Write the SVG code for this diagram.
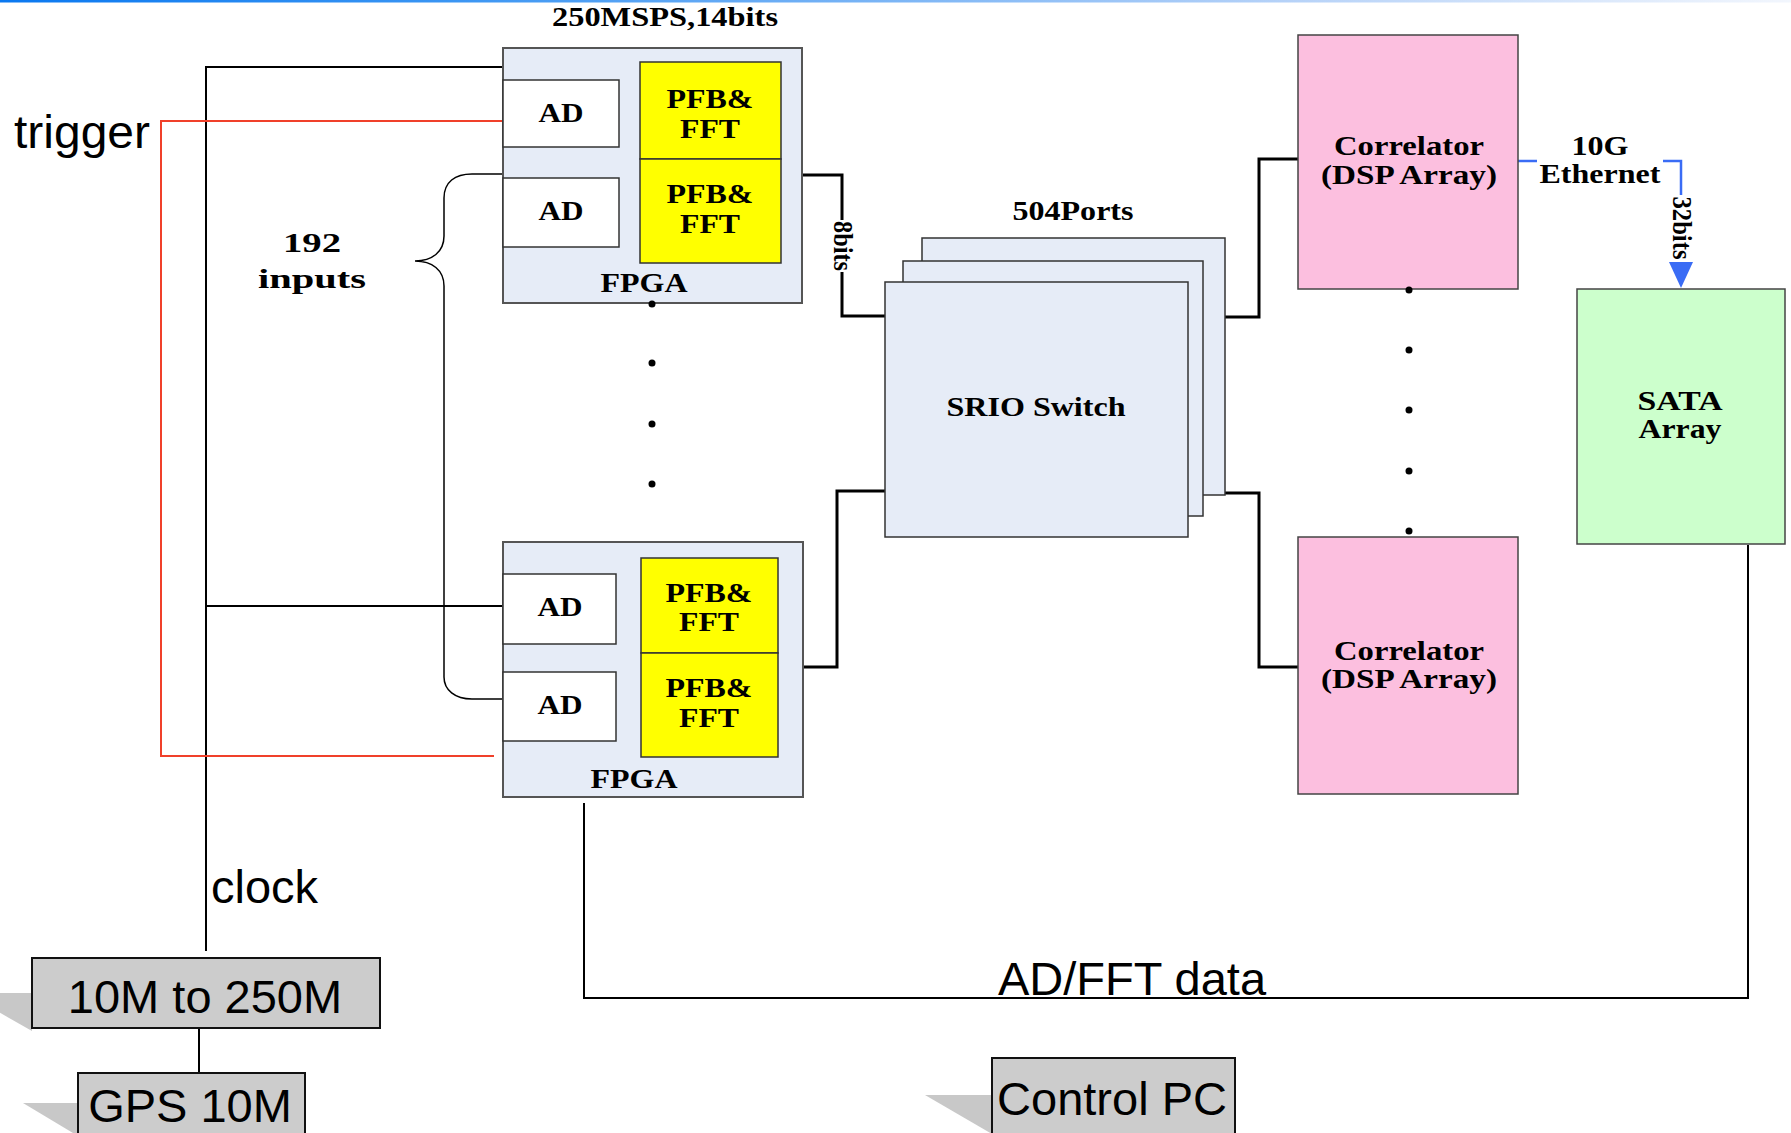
<svg xmlns="http://www.w3.org/2000/svg" width="1791" height="1133" viewBox="0 0 1791 1133">
<defs>
<linearGradient id="topbar" x1="0" y1="0" x2="1" y2="0">
<stop offset="0" stop-color="#0a78f0"/>
<stop offset="0.25" stop-color="#3a95f3"/>
<stop offset="0.72" stop-color="#b6d2f8"/>
<stop offset="1" stop-color="#f2f6fd"/>
</linearGradient>
<style>
.serif{font-family:"Liberation Serif","Times New Roman",serif;font-weight:bold;font-size:27px;fill:#000;text-anchor:middle}
.sans{font-family:"Liberation Sans",Arial,sans-serif;font-size:47px;fill:#000}
.mid{text-anchor:middle}
.fpga{fill:#e6ecf7;stroke:#555;stroke-width:2}
.ad{fill:#fff;stroke:#333;stroke-width:1.5}
.pfb{fill:#ffff00;stroke:#333;stroke-width:1.5}
.sw{fill:#e6ecf7;stroke:#333;stroke-width:1.5}
.corr{fill:#fcbfdf;stroke:#444;stroke-width:1.5}
.sata{fill:#ccffcc;stroke:#444;stroke-width:1.5}
.gray{fill:#cccccc;stroke:#111;stroke-width:2}
.shadow{fill:#c8c8c8;stroke:none}
.wire{fill:none;stroke:#000;stroke-width:2}
.bus{fill:none;stroke:#000;stroke-width:3}
.red{fill:none;stroke:#f0402a;stroke-width:2}
.blue{fill:none;stroke:#3a6cf5;stroke-width:2.5}
.brace{fill:none;stroke:#000;stroke-width:1.5}
.dot{fill:#000}
</style>
</defs>
<rect x="0" y="0" width="1791" height="1133" fill="#fff"/>
<rect x="0" y="0" width="1791" height="2.5" fill="url(#topbar)"/>

<g id="connectors">
<path class="wire" d="M206,951 V67 H509"/>
<path class="wire" d="M206,606 H508"/>
<path class="wire" d="M199,1028 V1073"/>
<path class="red" d="M509,121 H161 V756 H494"/>
<path class="brace" d="M503,174 H472 C455,174 444,182 444,198 V236 C444,252 432,261 415,261 C432,261 444,270 444,286 V677 C444,690 455,699 472,699 H503"/>
<path class="bus" d="M803,175 H842 V220"/>
<path class="bus" d="M842,272 V316 H885"/>
<path class="bus" d="M803,667 H837 V491 H885"/>
<path class="bus" d="M1225,317 H1259 V159 H1298"/>
<path class="bus" d="M1225,493 H1259 V667 H1298"/>
<path class="wire" d="M584,803 V998 H1748 V545"/>
<path class="blue" d="M1518,161 H1537"/>
<path class="blue" d="M1663,161 H1681 V195"/>
<polygon points="1669,262 1693,262 1681,288" fill="#3a6cf5"/>
<text class="serif" transform="translate(842,246) rotate(90)" x="0" y="8" font-size="24" textLength="50" lengthAdjust="spacingAndGlyphs">8bits</text>
<text class="serif" transform="translate(1681,228) rotate(90)" x="0" y="8" textLength="63" lengthAdjust="spacingAndGlyphs">32bits</text>
<text class="serif" x="1600" y="155" textLength="57" lengthAdjust="spacingAndGlyphs">10G</text>
<text class="serif" x="1600" y="183" textLength="121" lengthAdjust="spacingAndGlyphs">Ethernet</text>
</g>

<g id="labels">
<text class="sans" x="14" y="148" textLength="136" lengthAdjust="spacingAndGlyphs">trigger</text>
<text class="sans" x="211" y="903">clock</text>
<text class="sans mid" x="1132" y="995">AD/FFT data</text>
<text class="serif" x="665" y="26" textLength="226" lengthAdjust="spacingAndGlyphs">250MSPS,14bits</text>
<text class="serif" x="312" y="252" textLength="58" lengthAdjust="spacingAndGlyphs">192</text>
<text class="serif" x="312" y="288" textLength="108" lengthAdjust="spacingAndGlyphs">inputs</text>
<text class="serif" x="1073" y="220" textLength="121" lengthAdjust="spacingAndGlyphs">504Ports</text>
</g>

<g id="fpga-top">
<rect class="fpga" x="503" y="48" width="299" height="255"/>
<rect class="ad" x="503" y="80" width="116" height="67"/>
<rect class="ad" x="503" y="178" width="116" height="69"/>
<rect class="pfb" x="640" y="62" width="141" height="97"/>
<rect class="pfb" x="640" y="159" width="141" height="104"/>
<text class="serif" x="561" y="122" textLength="45" lengthAdjust="spacingAndGlyphs">AD</text>
<text class="serif" x="561" y="220" textLength="45" lengthAdjust="spacingAndGlyphs">AD</text>
<text class="serif" x="710" y="108" textLength="87" lengthAdjust="spacingAndGlyphs">PFB&amp;</text>
<text class="serif" x="710" y="138" textLength="60" lengthAdjust="spacingAndGlyphs">FFT</text>
<text class="serif" x="710" y="203" textLength="87" lengthAdjust="spacingAndGlyphs">PFB&amp;</text>
<text class="serif" x="710" y="233" textLength="60" lengthAdjust="spacingAndGlyphs">FFT</text>
<text class="serif" x="644" y="292" textLength="87" lengthAdjust="spacingAndGlyphs">FPGA</text>
</g>

<g id="fpga-dots">
<circle class="dot" cx="652" cy="304" r="3.5"/>
<circle class="dot" cx="652" cy="363" r="3.5"/>
<circle class="dot" cx="652" cy="424" r="3.5"/>
<circle class="dot" cx="652" cy="484" r="3.5"/>
</g>

<g id="fpga-bottom">
<rect class="fpga" x="503" y="542" width="300" height="255"/>
<rect class="ad" x="503" y="574" width="113" height="70"/>
<rect class="ad" x="503" y="672" width="113" height="69"/>
<rect class="pfb" x="641" y="558" width="137" height="95"/>
<rect class="pfb" x="641" y="653" width="137" height="104"/>
<text class="serif" x="560" y="616" textLength="45" lengthAdjust="spacingAndGlyphs">AD</text>
<text class="serif" x="560" y="714" textLength="45" lengthAdjust="spacingAndGlyphs">AD</text>
<text class="serif" x="709" y="602" textLength="87" lengthAdjust="spacingAndGlyphs">PFB&amp;</text>
<text class="serif" x="709" y="631" textLength="60" lengthAdjust="spacingAndGlyphs">FFT</text>
<text class="serif" x="709" y="697" textLength="87" lengthAdjust="spacingAndGlyphs">PFB&amp;</text>
<text class="serif" x="709" y="727" textLength="60" lengthAdjust="spacingAndGlyphs">FFT</text>
<text class="serif" x="634" y="788" textLength="87" lengthAdjust="spacingAndGlyphs">FPGA</text>
</g>

<g id="srio-switch">
<rect class="sw" x="922" y="238" width="303" height="257"/>
<rect class="sw" x="903" y="261" width="300" height="255"/>
<rect class="sw" x="885" y="282" width="303" height="255"/>
<text class="serif" x="1036" y="416" textLength="179" lengthAdjust="spacingAndGlyphs">SRIO Switch</text>
</g>

<g id="correlator-top">
<rect class="corr" x="1298" y="35" width="220" height="254"/>
<text class="serif" x="1409" y="155" textLength="150" lengthAdjust="spacingAndGlyphs">Correlator</text>
<text class="serif" x="1409" y="184" textLength="176" lengthAdjust="spacingAndGlyphs">(DSP Array)</text>
</g>

<g id="correlator-dots">
<circle class="dot" cx="1409" cy="290" r="3.5"/>
<circle class="dot" cx="1409" cy="350" r="3.5"/>
<circle class="dot" cx="1409" cy="410" r="3.5"/>
<circle class="dot" cx="1409" cy="471" r="3.5"/>
<circle class="dot" cx="1409" cy="531" r="3.5"/>
</g>

<g id="correlator-bottom">
<rect class="corr" x="1298" y="537" width="220" height="257"/>
<text class="serif" x="1409" y="660" textLength="150" lengthAdjust="spacingAndGlyphs">Correlator</text>
<text class="serif" x="1409" y="688" textLength="176" lengthAdjust="spacingAndGlyphs">(DSP Array)</text>
</g>

<g id="sata-array">
<rect class="sata" x="1577" y="289" width="208" height="255"/>
<text class="serif" x="1680" y="410" textLength="85" lengthAdjust="spacingAndGlyphs">SATA</text>
<text class="serif" x="1680" y="438" textLength="83" lengthAdjust="spacingAndGlyphs">Array</text>
</g>

<g id="pll-10m-250m">
<polygon class="shadow" points="-35,993 32,993 32,1031"/>
<rect class="gray" x="32" y="958" width="348" height="70"/>
<text class="sans mid" x="205" y="1013">10M to 250M</text>
</g>

<g id="gps-10m">
<polygon class="shadow" points="23,1103 78,1103 78,1136"/>
<rect class="gray" x="78" y="1073" width="227" height="70"/>
<text class="sans mid" x="190" y="1122">GPS 10M</text>
</g>

<g id="control-pc">
<polygon class="shadow" points="925,1095 992,1095 992,1134"/>
<rect class="gray" x="992" y="1058" width="243" height="85"/>
<text class="sans mid" x="1112" y="1115">Control PC</text>
</g>
</svg>
